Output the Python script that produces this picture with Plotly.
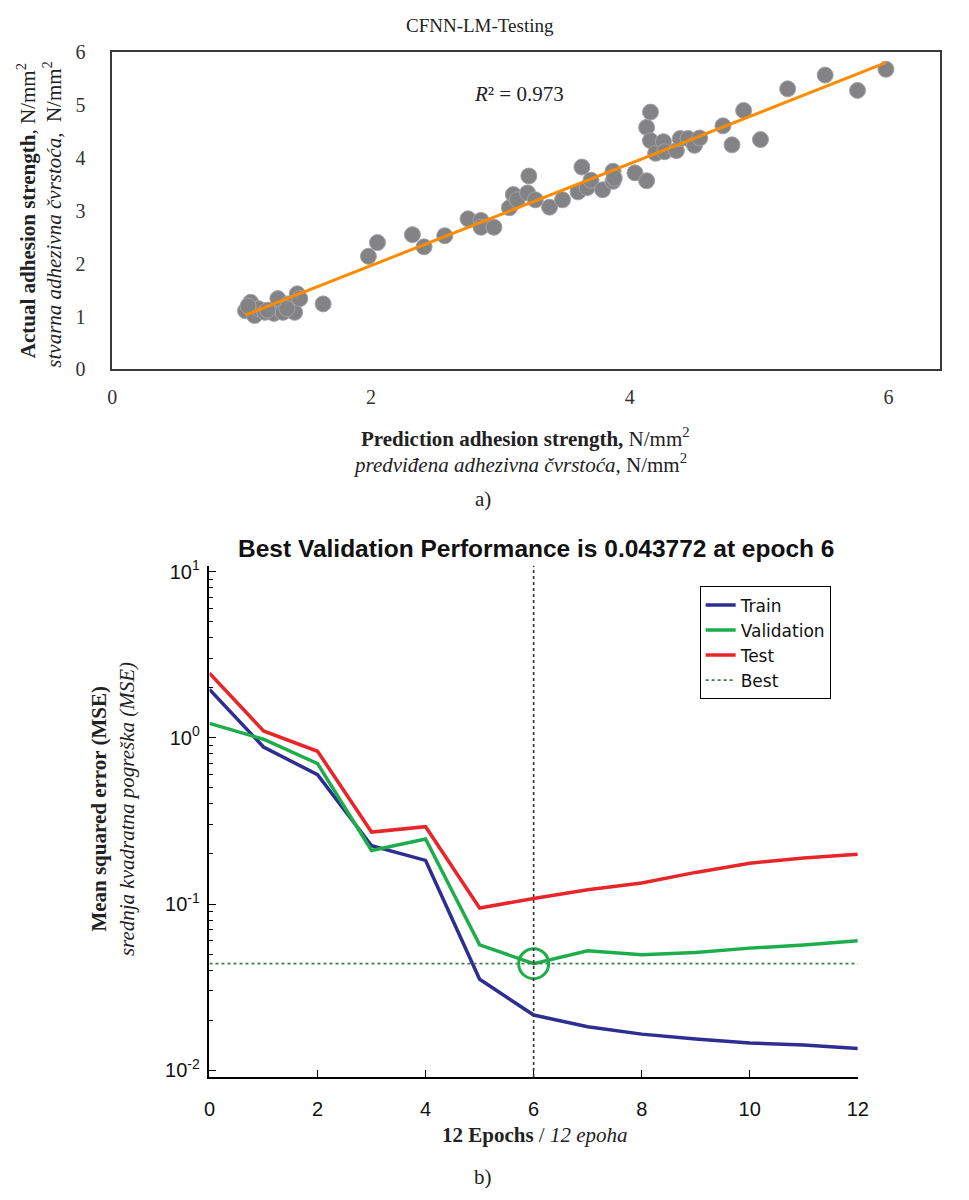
import numpy as np
import plotly.graph_objects as go

# ---------------- Panel a) data : CFNN-LM-Testing ----------------
PRED = [1.03, 1.07, 1.10, 1.13, 1.18, 1.25, 1.28, 1.32, 1.36, 1.41, 1.43, 1.45,
        1.05, 1.20, 1.35, 1.63, 1.98, 2.05, 2.32, 2.41, 2.57, 2.75, 2.85, 2.85,
        2.95, 3.07, 3.10, 3.13, 3.21, 3.22, 3.27, 3.38, 3.48, 3.60, 3.63, 3.67,
        3.70, 3.79, 3.87, 3.87, 3.88, 4.04, 4.13, 4.13, 4.16, 4.16, 4.20, 4.26,
        4.27, 4.36, 4.39, 4.45, 4.50, 4.54, 4.72, 4.79, 4.88, 5.01, 5.22, 5.51,
        5.76, 5.98]
ACTUAL = [1.11, 1.27, 1.02, 1.15, 1.08, 1.06, 1.34, 1.08, 1.24, 1.08, 1.43, 1.34,
          1.20, 1.12, 1.15, 1.24, 2.14, 2.40, 2.55, 2.32, 2.53, 2.85, 2.82, 2.69,
          2.69, 3.06, 3.31, 3.21, 3.34, 3.66, 3.21, 3.07, 3.21, 3.36, 3.83, 3.44,
          3.58, 3.40, 3.75, 3.56, 3.62, 3.72, 3.57, 4.58, 4.87, 4.33, 4.09, 4.31,
          4.12, 4.14, 4.37, 4.37, 4.24, 4.38, 4.61, 4.25, 4.90, 4.35, 5.31, 5.57,
          5.28, 5.68]
R2_TEXT = "0.973"
X_TICKS_A = [0, 2, 4, 6]
Y_TICKS_A = [0, 1, 2, 3, 4, 5, 6]

# ---------------- Panel b) data : training performance ----------------
EPOCHS = list(range(13))
TRAIN = [1.95, 0.88, 0.60, 0.224, 0.183, 0.0353, 0.0215, 0.0183, 0.0165,
         0.0154, 0.0146, 0.0142, 0.0135]
VALID = [1.22, 0.98, 0.70, 0.210, 0.246, 0.0568, 0.043772, 0.0523, 0.0496,
         0.0511, 0.0543, 0.0568, 0.0602]
TEST = [2.45, 1.10, 0.83, 0.271, 0.292, 0.0947, 0.108, 0.122, 0.134,
        0.155, 0.176, 0.189, 0.199]
BEST_EPOCH = 6
BEST_PERF = 0.043772
X_TICKS_B = [0, 2, 4, 6, 8, 10, 12]
Y_TICKS_B = [0.01, 0.1, 1, 10]
Y_TICKTEXT_B = ["10<sup>-2</sup>", "10<sup>-1</sup>", "10<sup>0</sup>", "10<sup>1</sup>"]

# page has an 8px default body margin -> work in page pixels and compensate
OFF = 8
W, H = 969 - OFF, 1200 - OFF
SERIF = "Liberation Serif, Times New Roman, serif"
SANS = "Liberation Sans, Arial, sans-serif"


def px(x):
    return (x - OFF) / W


def py(y):
    return 1 - (y - OFF) / H


fig = go.Figure()

# ---- panel a traces ----
fig.add_trace(go.Scatter(
    x=PRED, y=ACTUAL, mode="markers", xaxis="x", yaxis="y", showlegend=False,
    marker=dict(size=16, color="#838386", line=dict(color="#a3a3a6", width=1)),
))
slope, intercept = np.polyfit(PRED, ACTUAL, 1)
tx = np.array([min(PRED), max(PRED)])
fig.add_trace(go.Scatter(
    x=tx, y=slope * tx + intercept, mode="lines", xaxis="x", yaxis="y",
    showlegend=False, line=dict(color="#FF8C00", width=3),
))

# ---- panel b traces ----
fig.add_trace(go.Scatter(x=EPOCHS, y=TRAIN, mode="lines", name="Train",
                         xaxis="x2", yaxis="y2",
                         line=dict(color="#2E2D92", width=3.5)))
fig.add_trace(go.Scatter(x=EPOCHS, y=VALID, mode="lines", name="Validation",
                         xaxis="x2", yaxis="y2",
                         line=dict(color="#1DAE4B", width=3.5)))
fig.add_trace(go.Scatter(x=EPOCHS, y=TEST, mode="lines", name="Test",
                         xaxis="x2", yaxis="y2",
                         line=dict(color="#E8262A", width=3.5)))
fig.add_trace(go.Scatter(x=[EPOCHS[0], EPOCHS[-1]], y=[BEST_PERF, BEST_PERF],
                         mode="lines", name="Best", xaxis="x2", yaxis="y2",
                         line=dict(color="#3d7a48", width=1.8, dash="dot")))
fig.add_trace(go.Scatter(x=[BEST_EPOCH], y=[BEST_PERF], mode="markers",
                         showlegend=False, xaxis="x2", yaxis="y2",
                         marker=dict(symbol="circle-open", size=30,
                                     color="#1DAE4B", line=dict(width=3, color="#1DAE4B"))))

fig.add_shape(type="line", xref="x2", yref="y2 domain", x0=BEST_EPOCH, x1=BEST_EPOCH,
              y0=0, y1=1, line=dict(color="#333333", width=1.6, dash="dot"))

minor_vals = [k * 10.0 ** e for e in (-2, -1, 0) for k in range(2, 10)]

fig.update_layout(
    width=W, height=H, margin=dict(l=0, r=0, t=0, b=0),
    paper_bgcolor="white", plot_bgcolor="white",
    legend=dict(x=px(706), y=py(586), xanchor="left", yanchor="top",
                bordercolor="black", borderwidth=1, bgcolor="white",
                font=dict(family="DejaVu Sans, Liberation Sans, sans-serif",
                          size=17, color="#111"), tracegroupgap=0),
    xaxis=dict(domain=[px(108), px(951)], range=[0, 6.4], anchor="y",
               tickvals=X_TICKS_A, showline=True, mirror=True, linecolor="#3a3a3a",
               linewidth=1.5, showgrid=False, zeroline=False, ticks="",
               ticklabelstandoff=9,
               tickfont=dict(family=SERIF, size=20, color="#333")),
    yaxis=dict(domain=[py(365), py(42)], range=[0, 6], anchor="x",
               tickvals=Y_TICKS_A, showline=True, mirror=True, linecolor="#3a3a3a",
               linewidth=1.5, showgrid=False, zeroline=False, ticks="",
               ticklabelstandoff=21,
               tickfont=dict(family=SERIF, size=20, color="#333")),
    xaxis2=dict(domain=[px(207), px(867)], range=[0, 12], anchor="y2",
                tickvals=X_TICKS_B, showline=True, linecolor="black", linewidth=1.5,
                ticks="inside", ticklen=7, tickwidth=1.2, tickcolor="black",
                showgrid=False, zeroline=False, ticklabelstandoff=13,
                tickfont=dict(family=SANS, size=20, color="#111")),
    yaxis2=dict(domain=[py(1086), py(565)], type="log", range=[-2.041, 1.035],
                anchor="x2", tickvals=Y_TICKS_B, ticktext=Y_TICKTEXT_B,
                showline=True, linecolor="black", linewidth=1.5,
                ticks="inside", ticklen=7, tickwidth=1.2, tickcolor="black",
                minor=dict(tickvals=minor_vals, ticks="inside", ticklen=4,
                           tickwidth=1, tickcolor="black", showgrid=False),
                showgrid=False, zeroline=False, ticklabelstandoff=4,
                tickfont=dict(family=SANS, size=20, color="#111")),
)


def ann(x, y, text, size=21, family=SERIF, angle=0, color="#222"):
    fig.add_annotation(x=px(x), y=py(y), xref="paper", yref="paper", text=text,
                       showarrow=False, textangle=angle, xanchor="center",
                       yanchor="middle", font=dict(family=family, size=size, color=color))


# panel a texts
ann(482, 15, "CFNN-LM-Testing", size=19)
ann(522, 84, "<i>R</i>² = " + R2_TEXT, size=21)
ann(21, 203, "<b>Actual adhesion strength</b>, N/mm<sup>2</sup>", angle=-90)
ann(47, 207, "<i>stvarna adhezivna čvrstoća,</i>  N/mm<sup>2</sup>", angle=-90)
ann(529, 434, "<b>Prediction adhesion strength,</b> N/mm<sup>2</sup>")
ann(523, 461, "<i>predviđena adhezivna čvrstoća,</i> N/mm<sup>2</sup>")
ann(485, 497, "a)")

# panel b texts
ann(539, 547, "<b>Best Validation Performance is 0.043772 at epoch 6</b>",
    size=24.5, family=SANS, color="#111")
ann(95, 812, "<b>Mean squared error (MSE)</b>", angle=-90)
ann(123, 813, "<i>srednja kvadratna pogreška (MSE)</i>", angle=-90)
ann(538, 1145, "<b>12 Epochs</b> / <i>12 epoha</i>")
ann(485, 1188, "b)")

fig.write_html("out.html")
